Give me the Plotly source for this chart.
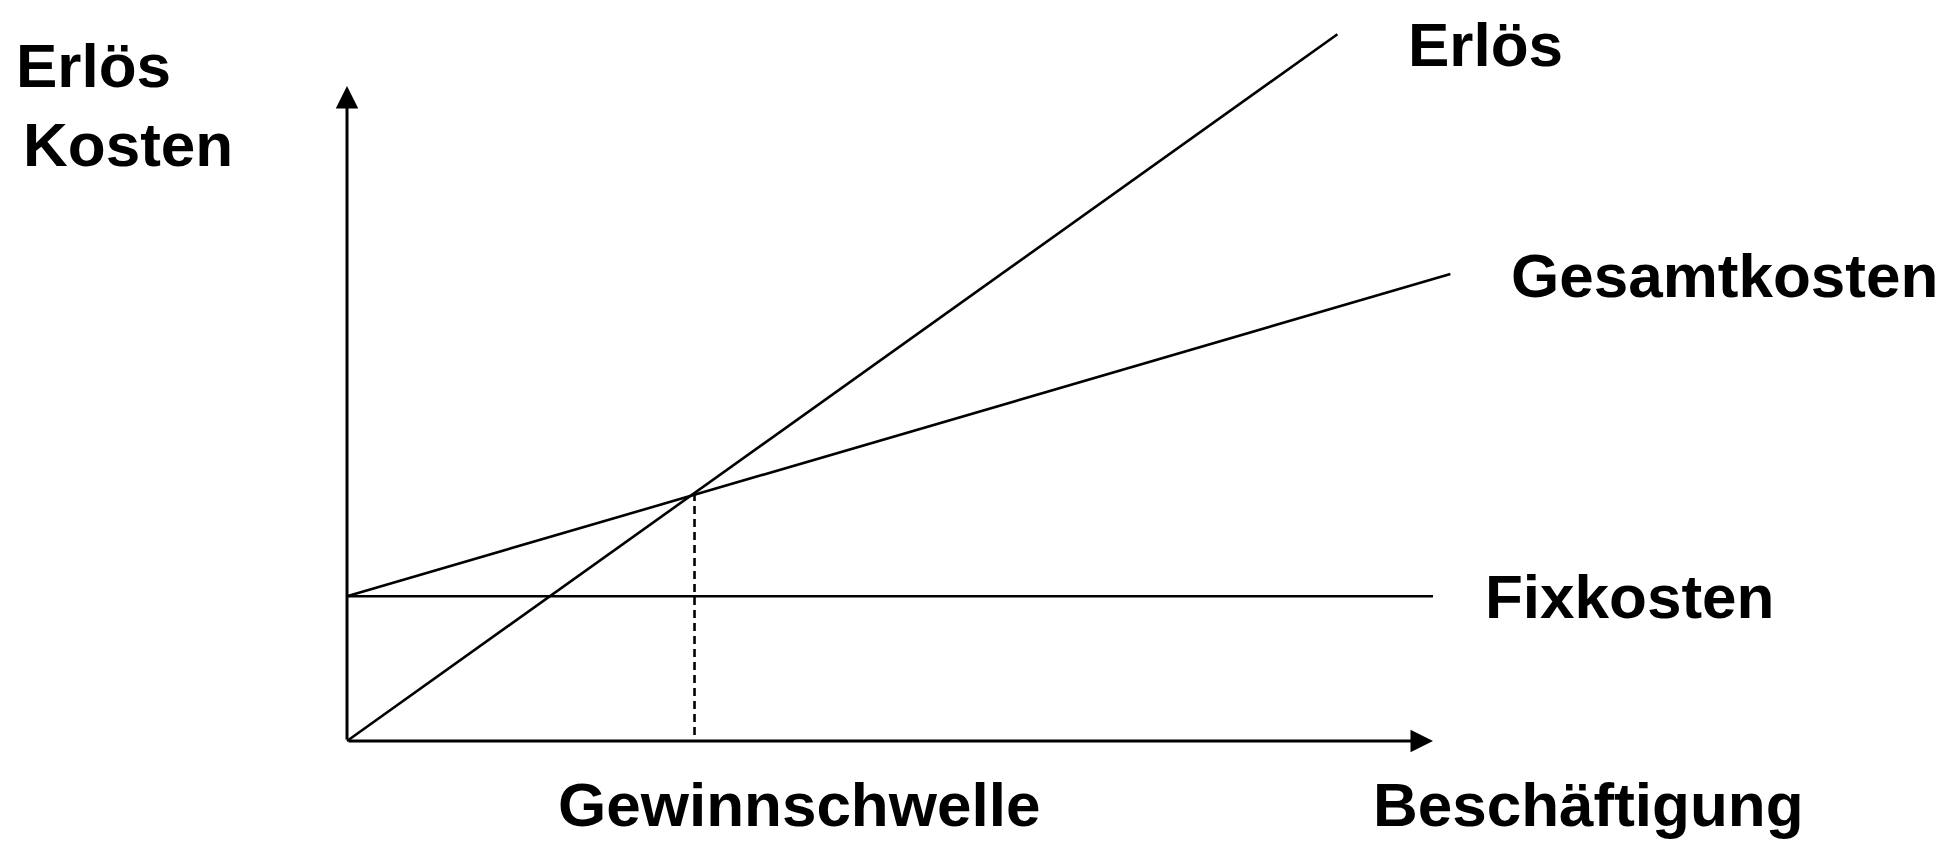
import plotly.graph_objects as go

# ---- data (abstract units: x = Beschäftigung 0..100, y = Erlös/Kosten 0..100) ----
fix_x = [0, 100]
fix_y = [22.1, 22.1]
erloes_x = [0, 91.2]
erloes_y = [0, 107.9]
gesamt_x = [0, 101.6]
gesamt_y = [22.1, 71.3]
schwelle_x = [32.0, 32.0]
schwelle_y = [0.9, 37.8]
axis_x_end = 100
axis_y_end = 100

labels = ["Erlös", "Gesamtkosten", "Fixkosten", "Beschäftigung", "Gewinnschwelle", "Erlös", "Kosten"]
label_x = [97.6, 107.1, 104.7, 94.4, 19.3, -30.6, -29.9]
label_y = [106.3, 71.1, 22.1, -9.7, -9.7, 103.1, 91.0]

# ---- layout mapping (pixels); page body has an 8px margin ----
PAGE_W, PAGE_H, OFF = 1951, 849, 8
W, H = PAGE_W - 2 * OFF, PAGE_H - 2 * OFF
X0_PX, X_PER = 347 - OFF, 10.86   # pixel of x=0 inside figure, pixels per x unit
Y0_PX, Y_PER = 741 - OFF, 6.55    # pixel of y=0 inside figure, pixels per y unit
x_range = [-X0_PX / X_PER, (W - X0_PX) / X_PER]
y_range = [-(H - Y0_PX) / Y_PER, Y0_PX / Y_PER]

fig = go.Figure()
line = dict(color="black", width=2.6)
fig.add_trace(go.Scatter(x=fix_x, y=fix_y, mode="lines", line=line, hoverinfo="skip"))
fig.add_trace(go.Scatter(x=erloes_x, y=erloes_y, mode="lines", line=line, hoverinfo="skip"))
fig.add_trace(go.Scatter(x=gesamt_x, y=gesamt_y, mode="lines", line=line, hoverinfo="skip"))
fig.add_trace(go.Scatter(x=schwelle_x, y=schwelle_y, mode="lines",
                         line=dict(color="black", width=2.6, dash="8px,5px"), hoverinfo="skip"))

# axes with arrows
for (tx, ty) in [(axis_x_end, 0), (0, axis_y_end)]:
    fig.add_annotation(x=tx, y=ty, ax=0, ay=0, xref="x", yref="y", axref="x", ayref="y",
                       text="", showarrow=True, arrowhead=2, arrowsize=1.5, arrowwidth=3,
                       arrowcolor="black", standoff=0, startstandoff=0)

font = dict(family="Liberation Sans, Arial, sans-serif", size=62, color="black")
for t, lx, ly in zip(labels, label_x, label_y):
    fig.add_annotation(x=lx, y=ly, xref="x", yref="y", text="<b>" + t + "</b>",
                       showarrow=False, xanchor="left", yanchor="middle", font=font,
                       borderpad=0)

fig.update_layout(
    width=W, height=H,
    margin=dict(l=0, r=0, t=0, b=0),
    paper_bgcolor="white", plot_bgcolor="white",
    showlegend=False,
    xaxis=dict(range=x_range, visible=False, fixedrange=True),
    yaxis=dict(range=y_range, visible=False, fixedrange=True),
)
fig.write_html("out.html")
